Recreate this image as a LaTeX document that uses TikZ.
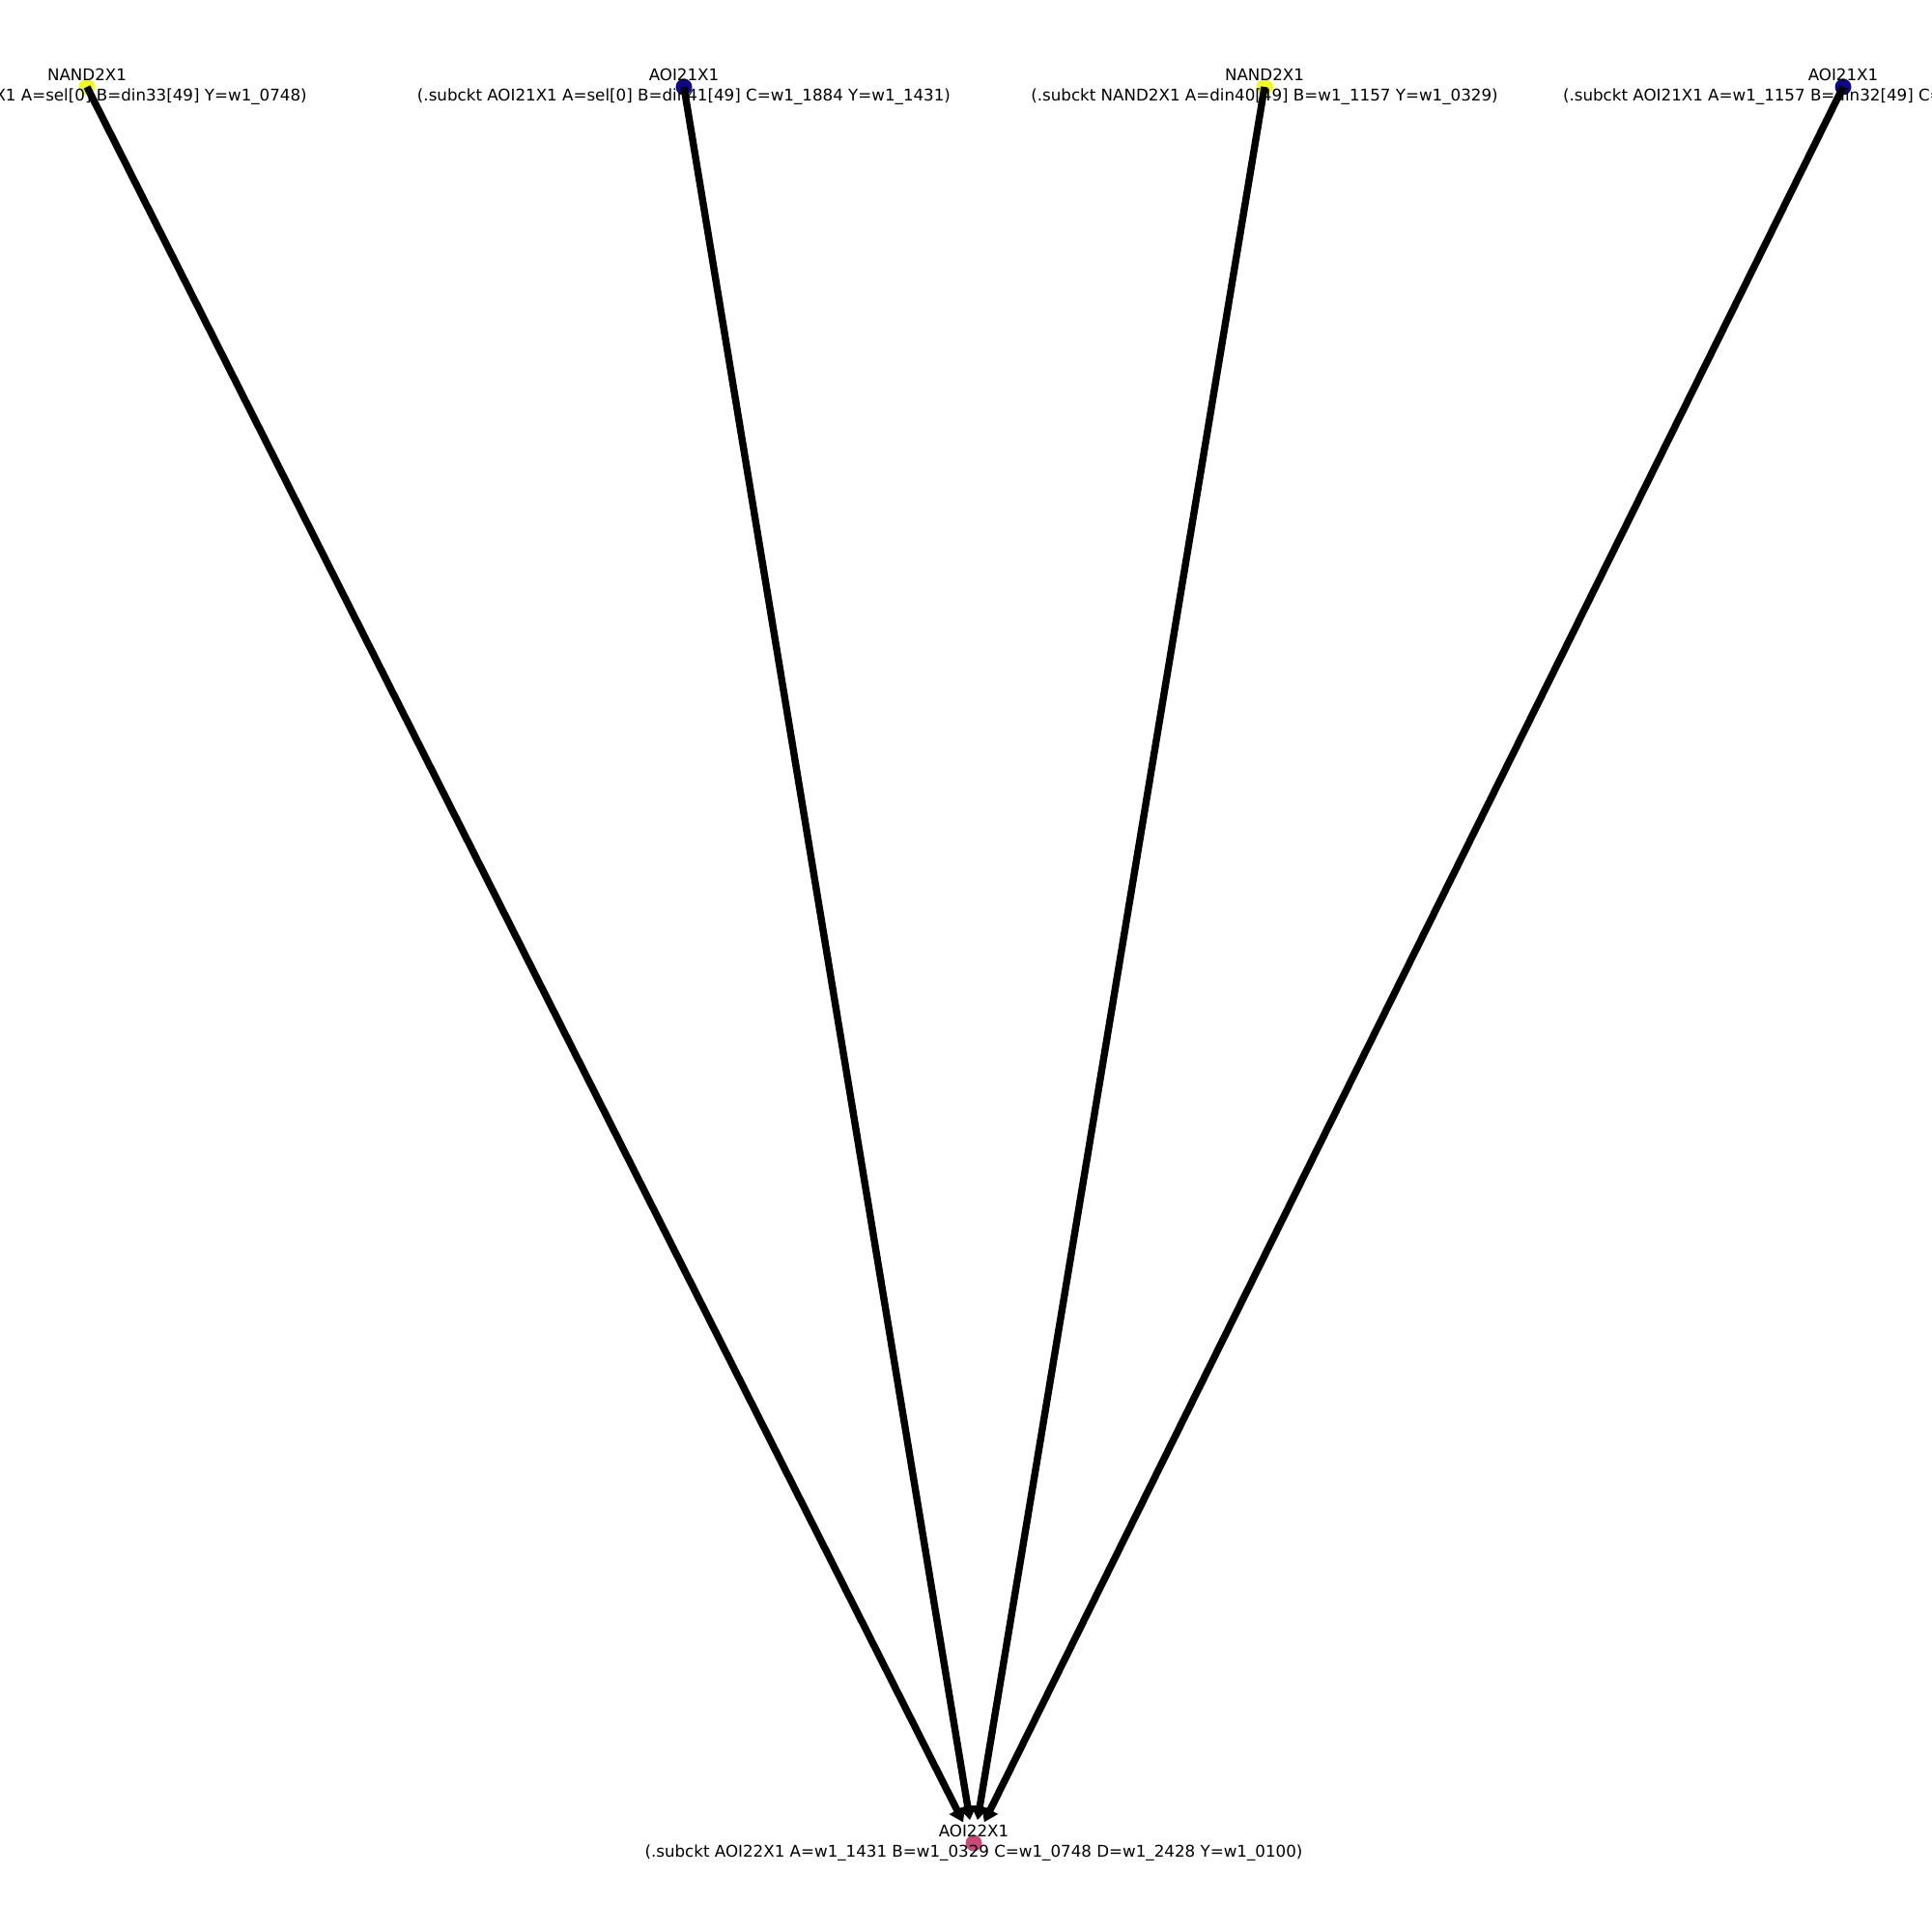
\documentclass[tikz,border=0pt]{standalone}
\usepackage{fontspec}
\setmainfont{DejaVu Sans}
\usetikzlibrary{arrows.meta}

\begin{document}
\begin{tikzpicture}
       \definecolor{yellow}{HTML}{F0F921}
       \definecolor{darkblue}{HTML}{0D0887}
       \definecolor{pink}{HTML}{CC4778}

       \newcommand{\cellname}[2]{\begin{tabular}{c}#1\\#2\end{tabular}}

       \tikzstyle{cell}      = [circle, inner sep=0pt, minimum size=0.17cm]
       \tikzstyle{cellname}  = [inner sep=0pt, font=\fontsize{4.75}{5.7}\selectfont]
       \tikzstyle{connector} = [line width=2.1pt, -{Triangle[length=4pt,width=5pt]}, shorten >=0.15cm]

       \useasboundingbox [fill=white] (0,0) rectangle (20,20);

       \node [cell, fill = yellow]   (nand1) at (0.90,19.10)  {};
       \node [cell, fill = darkblue] (aoi1)  at (7.08,19.10)  {};
       \node [cell, fill = yellow]   (nand2) at (13.09,19.10) {};
       \node [cell, fill = darkblue] (aoi2)  at (19.08,19.10) {};
       \node [cell, fill = pink]     (aoi22) at (10.08,0.92)  {};

       \draw [connector] (nand1.center) -- (aoi22);
       \draw [connector] (aoi1.center)  -- (aoi22);
       \draw [connector] (nand2.center) -- (aoi22);
       \draw [connector] (aoi2.center)  -- (aoi22);

       \node [cellname] (nand1name) at (nand1) {\cellname{NAND2X1}{(.subckt NAND2X1 A=sel[0] B=din33[49] Y=w1\_0748)}};
       \node [cellname] (aoi1name)  at (aoi1)  {\cellname{AOI21X1}{(.subckt AOI21X1 A=sel[0] B=din41[49] C=w1\_1884 Y=w1\_1431)}};
       \node [cellname] (nand2name) at (nand2) {\cellname{NAND2X1}{(.subckt NAND2X1 A=din40[49] B=w1\_1157 Y=w1\_0329)}};
       \node [cellname] (aoi2name)  at (aoi2)  {\cellname{AOI21X1}{(.subckt AOI21X1 A=w1\_1157 B=din32[49] C=w1\_2155 Y=w1\_2428)}};
       \node [cellname] (aoi22name) at (aoi22) {\cellname{AOI22X1}{(.subckt AOI22X1 A=w1\_1431 B=w1\_0329 C=w1\_0748 D=w1\_2428 Y=w1\_0100)}};
\end{tikzpicture}
\end{document}
